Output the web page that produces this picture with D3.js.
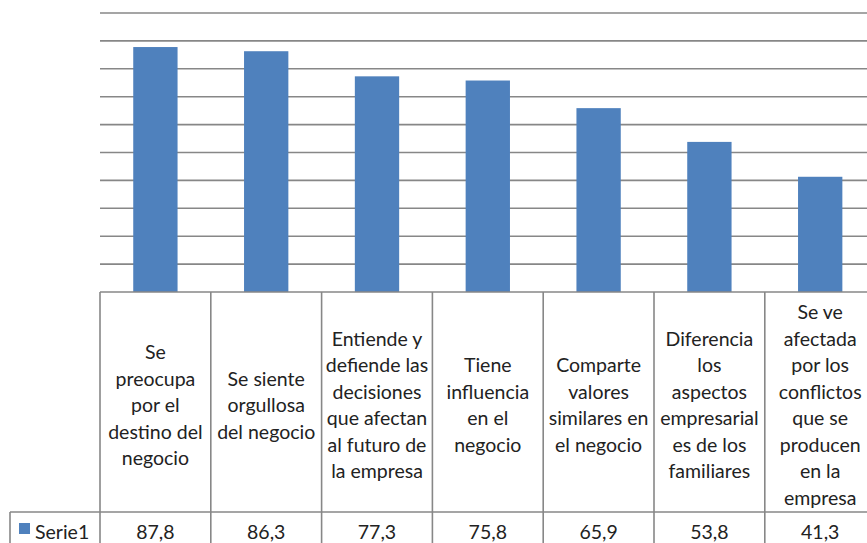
<!DOCTYPE html>
<html>
<head>
<meta charset="utf-8">
<script src="https://cdn.jsdelivr.net/npm/d3@7"></script>
<style>
  body { margin: 0; background: #fff; }
  svg { display: block; font-family: Lato, "Open Sans", sans-serif; }
</style>
</head>
<body>
<div class="canvas"></div>
<script>
// data
const categories = [
  ['Se', 'preocupa', 'por el', 'destino del', 'negocio'],
  ['Se siente', 'orgullosa', 'del negocio'],
  ['Entiende y', 'defiende las', 'decisiones', 'que afectan', 'al futuro de', 'la empresa'],
  ['Tiene', 'influencia', 'en el', 'negocio'],
  ['Comparte', 'valores', 'similares en', 'el negocio'],
  ['Diferencia', 'los', 'aspectos', 'empresarial', 'es de los', 'familiares'],
  ['Se ve', 'afectada', 'por los', 'conflictos', 'que se', 'producen', 'en la', 'empresa']
];
const serie1 = [87.8, 86.3, 77.3, 75.8, 65.9, 53.8, 41.3];
const seriesName = 'Serie1';
const yTicks = d3.range(0, 101, 10);

const width = 867, height = 543;
const plotLeft = 100, plotTop = 13, plotBottom = 292;
const rowSplit = 512; // line between header cells and value row

const svg = d3.select('.canvas')
  .append('svg')
  .attr('width', width)
  .attr('height', height);

// scales
const x = d3.scaleBand()
  .domain(d3.range(categories.length))
  .range([plotLeft, plotLeft + 110.8 * categories.length])
  .paddingInner(0.6)
  .paddingOuter(0.3);

const y = d3.scaleLinear().domain([0, 100]).range([plotBottom, plotTop]);

const step = x.step();
const colStart = i => plotLeft + i * step;

// gridlines
svg.append('g')
  .selectAll('line')
  .data(yTicks.filter(d => d > 0))
  .join('line')
  .attr('x1', plotLeft)
  .attr('x2', width)
  .attr('y1', d => y(d))
  .attr('y2', d => y(d))
  .attr('stroke', '#878787')
  .attr('stroke-width', 1.6);

// bars
svg.append('g')
  .selectAll('rect')
  .data(serie1)
  .join('rect')
  .attr('x', (d, i) => x(i))
  .attr('width', x.bandwidth())
  .attr('y', d => y(d))
  .attr('height', d => y(0) - y(d))
  .attr('fill', '#4f81bd');

// data table lines
const grid = svg.append('g')
  .attr('stroke', '#878787')
  .attr('stroke-width', 1.6);

grid.append('line') // baseline / table top
  .attr('x1', plotLeft).attr('x2', width)
  .attr('y1', y(0)).attr('y2', y(0));

grid.append('line') // row divider
  .attr('x1', 10).attr('x2', width)
  .attr('y1', rowSplit).attr('y2', rowSplit);

grid.append('line') // legend cell left edge
  .attr('x1', 10).attr('x2', 10)
  .attr('y1', rowSplit).attr('y2', height);

grid.selectAll('line.col')
  .data(d3.range(categories.length + 1))
  .join('line')
  .attr('class', 'col')
  .attr('x1', i => colStart(i))
  .attr('x2', i => colStart(i))
  .attr('y1', y(0))
  .attr('y2', height);

// header text (category labels)
const lineH = 26.5;
const headerMid = (y(0) + rowSplit) / 2 + 10;

const heads = svg.append('g')
  .selectAll('text')
  .data(categories)
  .join('text')
  .attr('text-anchor', 'middle')
  .attr('font-size', 19.5)
  .attr('fill', '#222')
  .attr('x', (d, i) => colStart(i) + step / 2)
  .attr('y', d => headerMid - (d.length - 1) * lineH / 2);

heads.selectAll('tspan')
  .data(d => d)
  .join('tspan')
  .attr('x', function () { return d3.select(this.parentNode).attr('x'); })
  .attr('dy', (d, i) => i === 0 ? 0 : lineH)
  .text(d => d);

// value row
svg.append('g')
  .selectAll('text')
  .data(serie1)
  .join('text')
  .attr('text-anchor', 'middle')
  .attr('font-size', 19.5)
  .attr('fill', '#222')
  .attr('x', (d, i) => colStart(i) + step / 2)
  .attr('y', 539)
  .text(d => d3.format('.1f')(d).replace('.', ','));

// legend key
svg.append('rect')
  .attr('x', 19).attr('y', 523)
  .attr('width', 11).attr('height', 11)
  .attr('fill', '#4f81bd');

svg.append('text')
  .attr('x', 35).attr('y', 539)
  .attr('font-size', 19.5)
  .attr('fill', '#222')
  .text(seriesName);
</script>
</body>
</html>
